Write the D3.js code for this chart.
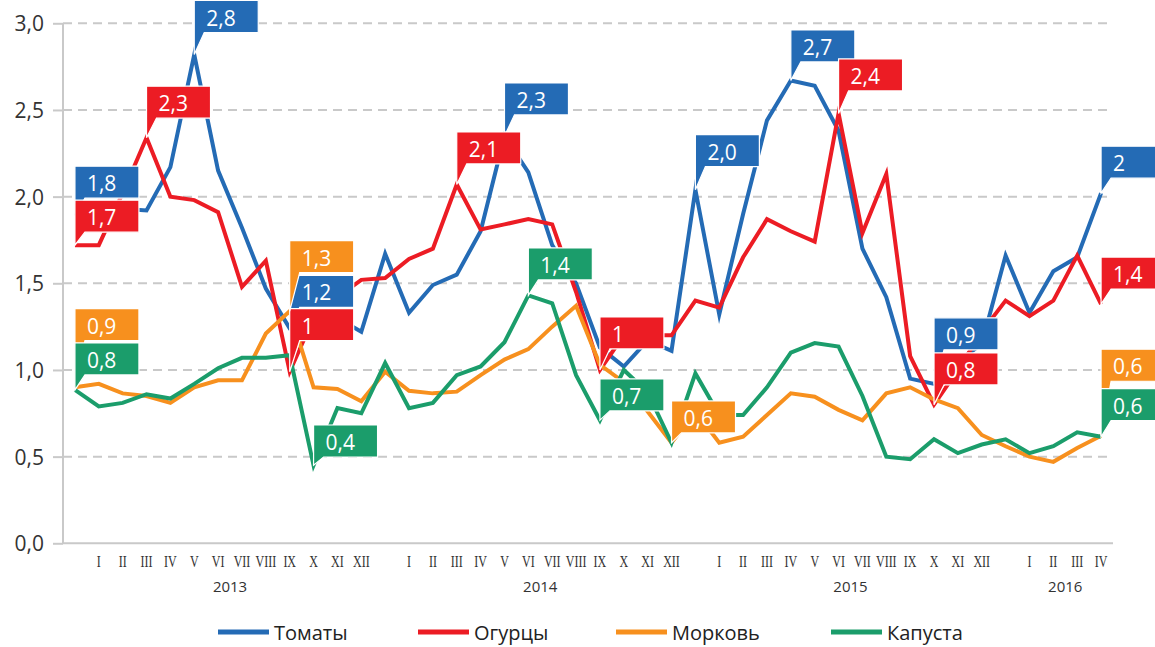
<!DOCTYPE html>
<html><head><meta charset="utf-8">
<script src="https://cdn.jsdelivr.net/npm/d3@7"></script>
<style>
html,body{margin:0;padding:0;background:#fff;}
svg{display:block;}
</style></head>
<body>
<svg id="chart" width="1155" height="647"></svg>
<script>
// ---------- DATA ----------
const categories = ["",
  "I","II","III","IV","V","VI","VII","VIII","IX","X","XI","XII","",
  "I","II","III","IV","V","VI","VII","VIII","IX","X","XI","XII","",
  "I","II","III","IV","V","VI","VII","VIII","IX","X","XI","XII","",
  "I","II","III","IV"];
const years = ["2013","2014","2015","2016"];
const seriesNames = ["Томаты","Огурцы","Морковь","Капуста"];
const yTicks = [0,0.5,1,1.5,2,2.5,3];

const tomatoes = [1.89,1.92,1.93,1.92,2.17,2.82,2.15,1.82,1.47,1.24,1.25,1.30,1.22,1.67,1.33,1.49,1.55,1.80,2.35,2.14,1.72,1.50,1.13,1.02,1.17,1.11,2.04,1.32,1.90,2.44,2.67,2.64,2.38,1.70,1.42,0.95,0.92,1.05,1.15,1.66,1.33,1.57,1.65,2.02];
const cucumbers = [1.72,1.72,2.02,2.34,2.00,1.98,1.91,1.48,1.63,0.99,1.30,1.42,1.52,1.53,1.64,1.70,2.07,1.81,1.84,1.87,1.84,1.45,1.00,1.20,1.20,1.20,1.40,1.36,1.65,1.87,1.80,1.74,2.48,1.79,2.13,1.08,0.80,1.00,1.22,1.40,1.31,1.40,1.66,1.38];
const carrots = [0.90,0.92,0.865,0.85,0.81,0.90,0.94,0.94,1.21,1.34,0.90,0.89,0.82,0.99,0.88,0.865,0.875,0.97,1.06,1.12,1.25,1.37,1.03,0.93,0.76,0.58,0.76,0.58,0.615,0.74,0.865,0.846,0.77,0.71,0.865,0.90,0.83,0.78,0.625,0.56,0.50,0.47,0.55,0.62];
const cabbage = [0.885,0.79,0.81,0.86,0.835,0.92,1.01,1.07,1.07,1.085,0.45,0.78,0.75,1.04,0.78,0.81,0.97,1.02,1.16,1.43,1.385,0.97,0.71,1.00,0.87,0.58,0.98,0.74,0.74,0.90,1.10,1.155,1.135,0.85,0.50,0.485,0.60,0.52,0.57,0.60,0.52,0.56,0.64,0.615];

// callout labels: [category index, text]
const tomatoLabels = [[0,"1,8"],[5,"2,8"],[9,"1,2"],[18,"2,3"],[26,"2,0"],[30,"2,7"],[36,"0,9"],[43,"2"]];
const cucumberLabels = [[0,"1,7"],[3,"2,3"],[9,"1"],[16,"2,1"],[22,"1"],[32,"2,4"],[36,"0,8"],[43,"1,4"]];
const carrotLabels = [[0,"0,9"],[9,"1,3"],[25,"0,6"],[43,"0,6"]];
const cabbageLabels = [[0,"0,8"],[10,"0,4"],[19,"1,4"],[22,"0,7"],[43,"0,6"]];

// ---------- LAYOUT / STYLE ----------
const colors = ["#246BB5","#EC1C24","#F7901E","#1B9D6B"];
// vertical gap (px) between each data point and the bottom of its callout box
const labelLift = [
  [17.5,22,21,21,23,18.6,34,15],
  [13,19.5,31,20.6,21,22.5,19.7,15],
  [46.6,38.4,9.8,54.6],
  [15,8.3,15.5,9.3,16]
];

const svg = d3.select("#chart");
const plotL = 63, plotR = 1113, plotT = 23.3, plotB = 543.3;

const x = d3.scaleBand().domain(d3.range(categories.length)).range([plotL, plotR]).padding(0);
const cx = i => x(i) + x.bandwidth() / 2;
const y = d3.scaleLinear().domain([0, 3]).range([plotB, plotT]);

const ru = d3.formatLocale({decimal: ",", thousands: " ", grouping: [3], currency: ["", ""]});
const fmt = ru.format(".1f");

// gridlines
svg.append("g").selectAll("line").data(yTicks.filter(d => d > 0)).join("line")
  .attr("x1", plotL).attr("x2", plotR)
  .attr("y1", d => y(d)).attr("y2", d => y(d))
  .attr("stroke", "#c9c9c9").attr("stroke-width", 2).attr("stroke-dasharray", "9,6");

// y axis
const yAxis = d3.axisLeft(y).tickValues(yTicks).tickFormat(fmt).tickSize(10).tickPadding(9);
const gy = svg.append("g").attr("transform", `translate(${plotL},0)`).call(yAxis);
gy.select(".domain").attr("stroke", "#c9c9c9").attr("stroke-width", 2).attr("d", `M0,${plotT}V${plotB}`);
gy.selectAll(".tick line").attr("stroke", "#c9c9c9").attr("stroke-width", 2);
gy.selectAll(".tick text").attr("font-family", "'Open Sans', sans-serif").attr("font-size", 21)
  .attr("fill", "#333").attr("dy", "0.36em");

// x axis baseline
svg.append("line").attr("x1", plotL).attr("x2", plotR).attr("y1", plotB).attr("y2", plotB)
  .attr("stroke", "#c9c9c9").attr("stroke-width", 2);

// month labels
svg.append("g").selectAll("text").data(categories.map((c, i) => ({c, i})).filter(d => d.c))
  .join("text")
  .attr("transform", d => `translate(${cx(d.i)},567) scale(0.75,1)`)
  .attr("text-anchor", "middle")
  .attr("font-family", "'Liberation Serif', serif").attr("font-size", 16).attr("fill", "#333")
  .text(d => d.c);

// year labels: centred under each group of months
const groups = [];
let g0 = null;
categories.forEach((c, i) => {
  if (c && g0 === null) g0 = i;
  if ((!c || i === categories.length - 1) && g0 !== null) {
    const end = c ? i : i - 1;
    groups.push([g0, end]); g0 = null;
  }
});
svg.append("g").selectAll("text").data(years).join("text")
  .attr("x", (d, k) => (cx(groups[k][0]) + cx(groups[k][1])) / 2)
  .attr("y", 591.5)
  .attr("text-anchor", "middle")
  .attr("font-family", "'Open Sans', sans-serif").attr("font-size", 15).attr("fill", "#333")
  .text(d => d);

// lines
const allSeries = [tomatoes, cucumbers, carrots, cabbage];
const line = d3.line().x((d, i) => cx(i)).y(d => y(d));
svg.append("g").selectAll("path").data(allSeries).join("path")
  .attr("d", d => line(d))
  .attr("fill", "none")
  .attr("stroke", (d, k) => colors[k])
  .attr("stroke-width", 4)
  .attr("stroke-linejoin", "miter").attr("stroke-miterlimit", 10);

// callouts
const allLabels = [tomatoLabels, cucumberLabels, carrotLabels, cabbageLabels];
const bw = 64, bh = 32;
const lg = svg.append("g");
allLabels.forEach((labs, k) => {
  labs.forEach(([i, txt], j) => {
    const px = cx(i), py = y(allSeries[k][i]);
    const bb = py - labelLift[k][j];
    const bt = bb - bh;
    lg.append("path")
      .attr("d", `M${px},${bt}H${px + bw}V${bb}H${px + 10}L${px},${py}Z`)
      .attr("fill", colors[k]).attr("stroke", "#fff").attr("stroke-width", 1.2);
    lg.append("text")
      .attr("x", px + 12).attr("y", bt + 25)
      .attr("font-family", "'Open Sans', sans-serif").attr("font-size", 21)
      .attr("fill", "#fff").text(txt);
  });
});

// legend
const legendX = [218, 418, 616, 831];
const lgd = svg.append("g").selectAll("g").data(seriesNames).join("g")
  .attr("transform", (d, k) => `translate(${legendX[k]},632)`);
lgd.append("line").attr("x1", 0).attr("x2", 51).attr("y1", 0).attr("y2", 0)
  .attr("stroke", (d, k) => colors[k]).attr("stroke-width", 5);
lgd.append("text").attr("x", 56).attr("y", 8)
  .attr("font-family", "'Open Sans', sans-serif").attr("font-size", 20).attr("fill", "#222")
  .text(d => d);
</script>
</body></html>
